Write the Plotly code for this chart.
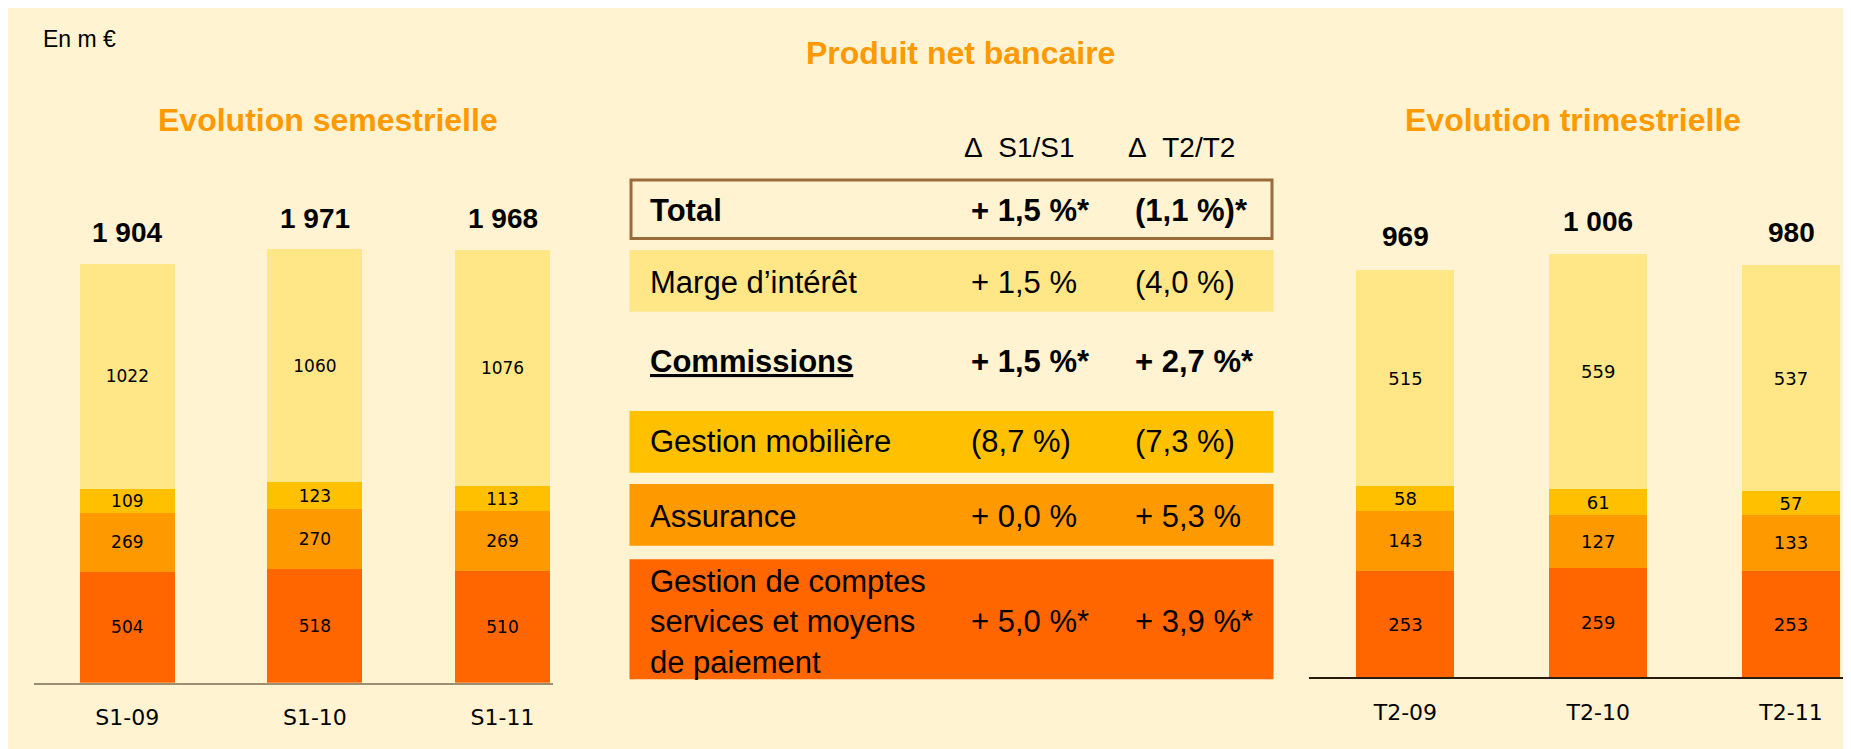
import plotly.graph_objects as go

# ---------------- data ----------------
sem_categories = ["S1-09", "S1-10", "S1-11"]
sem_paiement = [504, 518, 510]
sem_assurance = [269, 270, 269]
sem_gestion_mob = [109, 123, 113]
sem_marge = [1022, 1060, 1076]
sem_total = [1904, 1971, 1968]
sem_total_labels = ["1 904", "1 971", "1 968"]

tri_categories = ["T2-09", "T2-10", "T2-11"]
tri_paiement = [253, 259, 253]
tri_assurance = [143, 127, 133]
tri_gestion_mob = [58, 61, 57]
tri_marge = [515, 559, 537]
tri_total = [969, 1006, 980]
tri_total_labels = ["969", "1 006", "980"]

table_rows = ["Total", "Marge d’intérêt", "Commissions", "Gestion mobilière", "Assurance",
              "Gestion de comptes<br>services et moyens<br>de paiement"]
delta_s1 = ["+ 1,5 %*", "+ 1,5 %", "+ 1,5 %*", "(8,7 %)", "+ 0,0 %", "+ 5,0 %*"]
delta_t2 = ["(1,1 %)*", "(4,0 %)", "+ 2,7 %*", "(7,3 %)", "+ 5,3 %", "+ 3,9 %*"]
table_headers = ["Δ\u00a0\u00a0S1/S1", "Δ\u00a0\u00a0T2/T2"]

# ---------------- styles ----------------
W, H = 1851, 749
OFF = 8
BG = "#FFF3D1"
C_MARGE = "#FFE687"
C_GMOB = "#FFC000"
C_ASS = "#FF9900"
C_PAIE = "#FF6600"
ORANGE_TITLE = "#FF9900"
ARIAL = "Liberation Sans, Arial, sans-serif"
WIDE = "DejaVu Sans, Verdana, sans-serif"


def px(x):
    return (x - OFF) / W


def py(y):
    return 1 - (y - OFF) / H


fig = go.Figure()

series = [
    ("Gestion de comptes", sem_paiement, tri_paiement, C_PAIE),
    ("Assurance", sem_assurance, tri_assurance, C_ASS),
    ("Gestion mobilière", sem_gestion_mob, tri_gestion_mob, C_GMOB),
    ("Marge d'intérêt", sem_marge, tri_marge, C_MARGE),
]

for name, sv, tv, col in series:
    fig.add_trace(go.Bar(
        x=sem_categories, y=sv, name=name, marker=dict(color=col, line=dict(width=0)),
        width=0.507, text=sv, texttemplate="%{y}", textposition="inside",
        insidetextanchor="middle", constraintext="none",
        textfont=dict(family=WIDE, size=17, color="black"),
        xaxis="x", yaxis="y", hoverinfo="skip", showlegend=False))
    fig.add_trace(go.Bar(
        x=tri_categories, y=tv, name=name, marker=dict(color=col, line=dict(width=0)),
        width=0.508, text=tv, texttemplate="%{y}", textposition="inside",
        insidetextanchor="middle", constraintext="none",
        textfont=dict(family=WIDE, size=18, color="black"),
        xaxis="x2", yaxis="y2", hoverinfo="skip", showlegend=False))

annotations = []
for c, t, lab in zip(sem_categories, sem_total, sem_total_labels):
    annotations.append(dict(x=c, y=t, xref="x", yref="y", text="<b>%s</b>" % lab,
                            showarrow=False, yanchor="middle", yshift=31,
                            font=dict(family=ARIAL, size=28, color="black")))
for c, t, lab in zip(tri_categories, tri_total, tri_total_labels):
    annotations.append(dict(x=c, y=t, xref="x2", yref="y2", text="<b>%s</b>" % lab,
                            showarrow=False, yanchor="middle", yshift=33,
                            font=dict(family=ARIAL, size=28, color="black")))

# titles
annotations.append(dict(x=px(41), y=py(39), xref="paper", yref="paper", text="En m €",
                        showarrow=False, xanchor="left", yanchor="middle",
                        font=dict(family=ARIAL, size=23, color="black")))
annotations.append(dict(x=px(960), y=py(53), xref="paper", yref="paper",
                        text="<b>Produit net bancaire</b>", showarrow=False,
                        xanchor="center", yanchor="middle",
                        font=dict(family=ARIAL, size=32, color=ORANGE_TITLE)))
annotations.append(dict(x=px(328), y=py(120), xref="paper", yref="paper",
                        text="<b>Evolution semestrielle</b>", showarrow=False,
                        xanchor="center", yanchor="middle",
                        font=dict(family=ARIAL, size=32, color=ORANGE_TITLE)))
annotations.append(dict(x=px(1573), y=py(120), xref="paper", yref="paper",
                        text="<b>Evolution trimestrielle</b>", showarrow=False,
                        xanchor="center", yanchor="middle",
                        font=dict(family=ARIAL, size=32, color=ORANGE_TITLE)))

# table
shapes = []
row_boxes = [(178.5, 240), (250, 311.7), None, (411, 472.7), (484, 545.7), (559.3, 679.3)]
row_fills = [None, C_MARGE, None, C_GMOB, C_ASS, C_PAIE]
row_text_y = [210, 282.7, 361.7, 441.7, 516.7, 621.7]
row_bold = [True, False, True, False, False, False]
row_underline = [False, False, True, False, False, False]
TX0, TX1 = 629.5, 1273.5
for box, fill in zip(row_boxes, row_fills):
    if box is None:
        continue
    if fill is None:
        shapes.append(dict(type="rect", xref="paper", yref="paper",
                           x0=px(TX0 + 1.5), x1=px(TX1 - 1.5), y0=py(box[0] + 1.5), y1=py(box[1] - 1.5),
                           line=dict(color="#9C6B3A", width=3), fillcolor="rgba(0,0,0,0)"))
    else:
        shapes.append(dict(type="rect", xref="paper", yref="paper",
                           x0=px(TX0), x1=px(TX1), y0=py(box[0]), y1=py(box[1]),
                           line=dict(width=0), fillcolor=fill))

for hx, htxt in zip([962, 1126], table_headers):
    annotations.append(dict(x=px(hx), y=py(147), xref="paper", yref="paper", text=htxt,
                            showarrow=False, xanchor="left", yanchor="middle",
                            font=dict(family=ARIAL, size=28, color="black")))

for lab, s1, t2, ty, b, u in zip(table_rows, delta_s1, delta_t2, row_text_y, row_bold, row_underline):
    fmt = (lambda s: "<b>%s</b>" % s) if b else (lambda s: s)
    font = dict(family=ARIAL, size=31, color="black")
    lfont = dict(font)
    if u:
        lfont["lineposition"] = "under"
    annotations.append(dict(x=px(648), y=py(ty), xref="paper", yref="paper", text=fmt(lab),
                            showarrow=False, xanchor="left", yanchor="middle", align="left",
                            font=lfont))
    annotations.append(dict(x=px(969), y=py(ty), xref="paper", yref="paper", text=fmt(s1),
                            showarrow=False, xanchor="left", yanchor="middle", font=font))
    annotations.append(dict(x=px(1133), y=py(ty), xref="paper", yref="paper", text=fmt(t2),
                            showarrow=False, xanchor="left", yanchor="middle", font=font))

fig.update_layout(
    width=W, height=H, margin=dict(l=0, r=0, t=0, b=0),
    paper_bgcolor=BG, plot_bgcolor="rgba(0,0,0,0)",
    barmode="stack", showlegend=False,
    xaxis=dict(domain=[px(33.5), px(552.8)], range=[-0.5, 2.268], type="category",
               showline=True, linecolor="#9A8F73", linewidth=2, showgrid=False, zeroline=False,
               ticks="outside", ticklen=14, tickcolor="rgba(0,0,0,0)",
               tickfont=dict(family=WIDE, size=22, color="black"), fixedrange=True),
    yaxis=dict(domain=[py(682.7), py(682.7 - 2400 * 0.22)], range=[0, 2400], visible=False,
               fixedrange=True),
    xaxis2=dict(domain=[px(1309), px(1842.9)], range=[-0.5, 2.269], type="category",
                anchor="y2", showline=True, linecolor="#2A1A0A", linewidth=2, showgrid=False,
                zeroline=False, ticks="outside", ticklen=14, tickcolor="rgba(0,0,0,0)",
                tickfont=dict(family=WIDE, size=22, color="black"), fixedrange=True),
    yaxis2=dict(domain=[py(677.3), py(677.3 - 1150 * 0.4205)], range=[0, 1150], anchor="x2",
                visible=False, fixedrange=True),
    annotations=annotations, shapes=shapes,
)

fig.write_html("out.html", config={"displayModeBar": False})
